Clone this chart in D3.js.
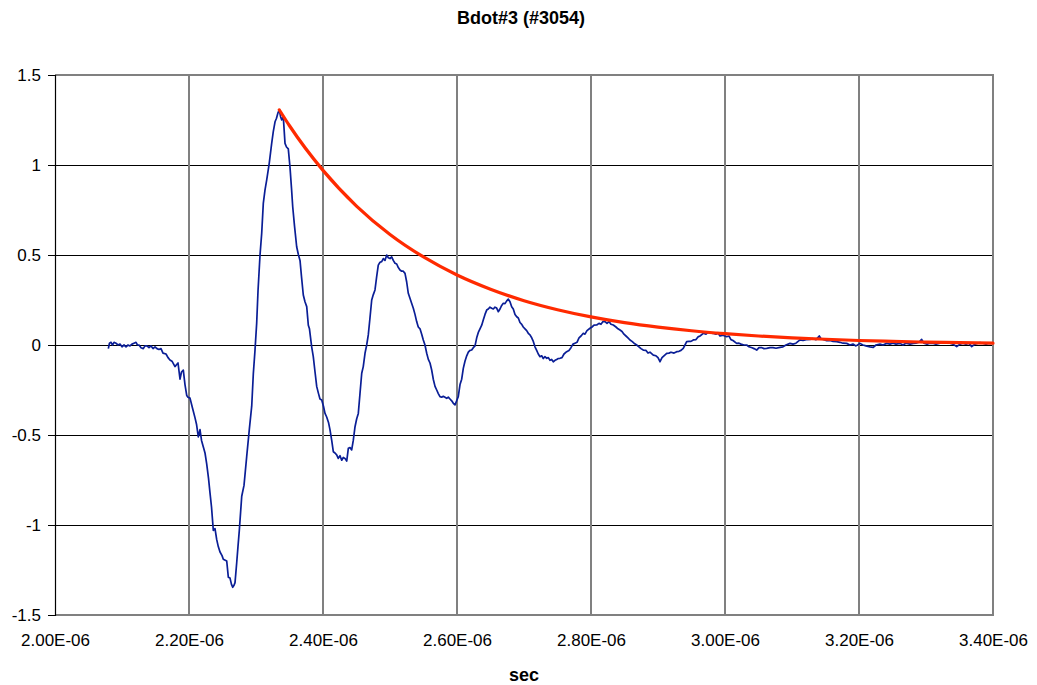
<!DOCTYPE html>
<html>
<head>
<meta charset="utf-8">
<script src="https://cdnjs.cloudflare.com/ajax/libs/d3/7.8.5/d3.min.js"></script>
<style>
  html, body { margin: 0; padding: 0; background: #fff; }
  svg { display: block; font-family: "Liberation Sans", Arial, sans-serif; }
</style>
</head>
<body>
<svg id="chart" width="1037" height="685"></svg>
<script>
// ---- Data (time in microseconds) ----
const titleText = "Bdot#3 (#3054)";
const xAxisTitle = "sec";
const xTicks = [2.0, 2.2, 2.4, 2.6, 2.8, 3.0, 3.2, 3.4];
const xTickLabels = ["2.00E-06","2.20E-06","2.40E-06","2.60E-06","2.80E-06","3.00E-06","3.20E-06","3.40E-06"];
const yTicks = [-1.5, -1, -0.5, 0, 0.5, 1, 1.5];
const yTickLabels = ["-1.5","-1","-0.5","0","0.5","1","1.5"];

const bdotTime = [
 2.0796,2.0813,2.0836,2.0858,2.0881,2.0910,2.0940,2.0970,2.1000,2.1030,
 2.1060,2.1090,2.1119,2.1149,2.1179,2.1209,2.1231,2.1254,2.1284,2.1318,
 2.1343,2.1373,2.1403,2.1433,2.1463,2.1493,2.1522,2.1552,2.1582,2.1612,
 2.1657,2.1687,2.1716,2.1746,2.1791,2.1813,2.1836,2.1866,2.1888,2.1915,
 2.1940,2.1966,2.1985,2.2015,2.2052,2.2090,2.2112,2.2139,2.2164,2.2187,
 2.2213,2.2239,2.2264,2.2291,2.2313,2.2336,2.2363,2.2388,2.2413,2.2437,
 2.2463,2.2493,2.2512,2.2563,2.2587,2.2612,2.2634,2.2652,2.2672,2.2687,
 2.2712,2.2731,2.2751,2.2787,2.2821,2.2861,2.2900,2.2936,2.2960,2.2985,
 2.3010,2.3030,2.3060,2.3085,2.3109,2.3134,2.3160,2.3198,2.3234,2.3258,
 2.3284,2.3306,2.3328,2.3348,2.3366,2.3384,2.3407,2.3433,2.3455,2.3482,
 2.3507,2.3530,2.3548,2.3575,2.3607,2.3634,2.3657,2.3679,2.3706,2.3731,
 2.3757,2.3781,2.3798,2.3831,2.3855,2.3881,2.3906,2.3933,2.3955,2.3981,
 2.4007,2.4030,2.4055,2.4082,2.4104,2.4130,2.4154,2.4179,2.4204,2.4228,
 2.4254,2.4279,2.4303,2.4328,2.4354,2.4378,2.4403,2.4428,2.4452,2.4478,
 2.4503,2.4527,2.4552,2.4578,2.4601,2.4627,2.4652,2.4676,2.4701,2.4727,
 2.4751,2.4776,2.4801,2.4825,2.4851,2.4876,2.4900,2.4925,2.4951,2.4975,
 2.5000,2.5025,2.5049,2.5075,2.5100,2.5124,2.5149,2.5175,2.5198,2.5224,
 2.5249,2.5273,2.5298,2.5324,2.5348,2.5373,2.5398,2.5422,2.5448,2.5473,
 2.5497,2.5522,2.5548,2.5572,2.5597,2.5622,2.5646,2.5672,2.5697,2.5721,
 2.5746,2.5772,2.5795,2.5821,2.5846,2.5870,2.5895,2.5921,2.5945,2.5970,
 2.5995,2.6019,2.6045,2.6070,2.6094,2.6119,2.6145,2.6169,2.6194,2.6219,
 2.6243,2.6269,2.6294,2.6318,2.6343,2.6369,2.6392,2.6418,2.6443,2.6467,
 2.6492,2.6518,2.6542,2.6567,2.6592,2.6616,2.6642,2.6667,2.6691,2.6716,
 2.6742,2.6766,2.6791,2.6816,2.6840,2.6866,2.6891,2.6915,2.6940,2.6966,
 2.6989,2.7015,2.7040,2.7064,2.7089,2.7115,2.7139,2.7164,2.7189,2.7213,
 2.7239,2.7264,2.7288,2.7313,2.7339,2.7363,2.7388,2.7413,2.7437,2.7463,
 2.7488,2.7512,2.7537,2.7567,2.7597,2.7637,2.7671,2.7701,2.7731,2.7761,
 2.7791,2.7821,2.7851,2.7885,2.7910,2.7940,2.7985,2.8015,2.8045,2.8085,
 2.8119,2.8149,2.8179,2.8209,2.8239,2.8268,2.8298,2.8333,2.8373,2.8403,
 2.8433,2.8463,2.8492,2.8522,2.8552,2.8582,2.8612,2.8642,2.8682,2.8716,
 2.8746,2.8780,2.8821,2.8851,2.8880,2.8930,2.8970,2.9000,2.9030,2.9060,
 2.9089,2.9130,2.9164,2.9194,2.9239,2.9279,2.9313,2.9343,2.9377,2.9403,
 2.9428,2.9462,2.9492,2.9527,2.9567,2.9597,2.9627,2.9676,2.9716,2.9746,
 2.9776,2.9821,2.9865,2.9895,2.9925,2.9970,3.0025,3.0059,3.0089,3.0119,
 3.0174,3.0209,3.0239,3.0283,3.0324,3.0358,3.0403,3.0433,3.0473,3.0507,
 3.0552,3.0582,3.0622,3.0671,3.0716,3.0761,3.0821,3.0865,3.0910,3.0970,
 3.1015,3.1059,3.1119,3.1164,3.1209,3.1268,3.1313,3.1358,3.1407,3.1433,
 3.1477,3.1518,3.1567,3.1612,3.1667,3.1716,3.1761,3.1816,3.1865,3.1910,
 3.1955,3.2015,3.2059,3.2104,3.2164,3.2213,3.2253,3.2313,3.2358,3.2413,
 3.2462,3.2507,3.2552,3.2612,3.2656,3.2701,3.2761,3.2810,3.2850,3.2895,
 3.2935,3.2970,3.3015,3.3059,3.3109,3.3149,3.3209,3.3253,3.3309,3.3358,
 3.3403,3.3458,3.3507,3.3552,3.3597,3.3641,3.3682,3.3731,3.3776,3.3806,
 3.3850,3.3895,3.3940,3.3980
];
const bdotValue = [
 -0.02,0.01,0.015,0.0,0.015,0.01,0.0,0.005,-0.01,0.0,
 -0.01,0.0,-0.005,0.005,0.01,0.015,0.0,0.0,-0.015,-0.02,
 -0.005,-0.005,-0.015,-0.005,-0.02,-0.01,-0.02,-0.025,-0.02,-0.045,
 -0.05,-0.07,-0.083,-0.09,-0.12,-0.11,-0.1,-0.19,-0.15,-0.14,
 -0.22,-0.28,-0.29,-0.295,-0.35,-0.405,-0.44,-0.51,-0.47,-0.53,
 -0.565,-0.6,-0.66,-0.74,-0.82,-0.9,-1.03,-1.02,-1.08,-1.12,
 -1.15,-1.17,-1.19,-1.2,-1.29,-1.295,-1.33,-1.346,-1.335,-1.32,
 -1.21,-1.12,-1.03,-0.84,-0.78,-0.62,-0.47,-0.34,-0.16,-0.03,
 0.12,0.3,0.5,0.62,0.787,0.86,0.917,1.01,1.12,1.185,
 1.24,1.26,1.29,1.306,1.27,1.25,1.27,1.12,1.1,1.09,
 0.99,0.87,0.768,0.66,0.546,0.5,0.47,0.38,0.278,0.24,
 0.213,0.11,0.09,-0.01,-0.065,-0.15,-0.23,-0.27,-0.3,-0.305,
 -0.34,-0.38,-0.40,-0.43,-0.47,-0.53,-0.593,-0.6,-0.61,-0.63,
 -0.615,-0.64,-0.625,-0.63,-0.645,-0.574,-0.57,-0.583,-0.53,-0.454,
 -0.41,-0.38,-0.27,-0.157,-0.12,-0.046,0.0,0.056,0.15,0.25,
 0.28,0.306,0.38,0.444,0.46,0.463,0.48,0.47,0.5,0.485,
 0.48,0.49,0.47,0.454,0.45,0.43,0.417,0.41,0.41,0.398,
 0.35,0.287,0.26,0.23,0.204,0.17,0.13,0.10,0.09,0.06,
 0.028,0.0,-0.046,-0.08,-0.1,-0.139,-0.19,-0.23,-0.25,-0.27,
 -0.287,-0.29,-0.285,-0.29,-0.296,-0.29,-0.30,-0.31,-0.324,-0.333,
 -0.31,-0.287,-0.22,-0.19,-0.13,-0.09,-0.06,-0.04,-0.03,-0.028,
 -0.015,-0.005,0.04,0.07,0.09,0.11,0.139,0.17,0.194,0.2,
 0.21,0.204,0.2,0.21,0.205,0.185,0.2,0.22,0.232,0.23,
 0.245,0.255,0.24,0.213,0.2,0.17,0.157,0.15,0.125,0.115,
 0.10,0.09,0.08,0.065,0.056,0.04,0.02,-0.01,-0.03,-0.05,
 -0.065,-0.06,-0.075,-0.065,-0.074,-0.07,-0.085,-0.08,-0.093,-0.085,
 -0.08,-0.075,-0.074,-0.07,-0.05,-0.037,-0.03,-0.015,0.005,0.01,
 0.015,0.04,0.05,0.065,0.06,0.08,0.093,0.1,0.11,0.111,
 0.12,0.115,0.13,0.13,0.12,0.13,0.115,0.111,0.1,0.09,
 0.083,0.075,0.06,0.05,0.04,0.028,0.02,0.01,0.0,-0.01,
 -0.02,-0.028,-0.03,-0.045,-0.04,-0.056,-0.06,-0.07,-0.093,-0.07,
 -0.06,-0.046,-0.045,-0.04,-0.045,-0.037,-0.035,-0.03,-0.019,0.0,
 0.019,0.02,0.02,0.028,0.03,0.045,0.05,0.065,0.06,0.07,
 0.069,0.065,0.06,0.068,0.05,0.055,0.046,0.05,0.03,0.025,
 0.009,0.01,0.005,0.0,0.0,-0.01,-0.015,-0.02,-0.028,-0.015,
 -0.015,-0.02,-0.019,-0.015,-0.015,-0.018,-0.013,-0.01,0.0,0.009,
 0.005,0.01,0.028,0.025,0.03,0.031,0.035,0.03,0.05,0.035,
 0.03,0.024,0.025,0.02,0.019,0.015,0.01,0.009,0.0,0.005,
 -0.005,0.009,0.0,-0.005,-0.01,-0.013,0.0,0.005,0.0,0.009,
 0.005,0.01,0.005,0.009,0.0,0.01,0.005,0.009,0.01,0.015,
 0.031,0.01,0.005,0.01,0.009,0.005,0.01,0.015,0.013,0.01,
 0.005,-0.009,0.005,0.01,0.005,0.01,-0.009,0.005,0.01,0.013,
 0.01,0.005,0.01,0.009
];

// Envelope (red)
const envTime = [2.3348,2.35,2.40,2.45,2.50,2.55,2.60,2.65,2.70,2.75,2.80,2.85,2.90,2.95,3.00,3.05,3.10,3.15,3.20,3.25,3.30,3.35,3.40];
const envValue = [1.306,1.218,0.970,0.772,0.614,0.489,0.389,0.310,0.246,0.196,0.156,0.124,0.099,0.079,0.063,0.050,0.040,0.032,0.025,0.020,0.016,0.013,0.010];

// ---- Drawing ----
const svg = d3.select("#chart");
const W = 1037, H = 685;
const m = { left: 55, right: 44, top: 75, bottom: 70 };
const x0 = m.left, x1 = W - m.right, y0 = m.top, y1 = H - m.bottom;

const x = d3.scaleLinear().domain([2.0, 3.4]).range([x0, x1]);
const y = d3.scaleLinear().domain([-1.5, 1.5]).range([y1, y0]);

const g = svg.append("g");

// horizontal gridlines (black)
g.append("g").selectAll("line").data(yTicks.filter(v => v > -1.5 && v < 1.5)).join("line")
  .attr("x1", x0).attr("x2", x1)
  .attr("y1", d => Math.round(y(d)) + 0.5).attr("y2", d => Math.round(y(d)) + 0.5)
  .attr("stroke", "#000").attr("stroke-width", 1);

// vertical gridlines (gray)
g.append("g").selectAll("line").data(xTicks.filter(v => v > 2.0 && v < 3.4)).join("line")
  .attr("x1", d => Math.round(x(d))).attr("x2", d => Math.round(x(d)))
  .attr("y1", y0).attr("y2", y1)
  .attr("stroke", "#808080").attr("stroke-width", 2);

// plot border top/right/bottom (gray)
g.append("path")
  .attr("d", `M${x0},${y0}H${x1}V${y1}H${x0}`)
  .attr("fill", "none").attr("stroke", "#808080").attr("stroke-width", 2);

// Y axis
const yAxis = d3.axisLeft(y).tickValues(yTicks)
  .tickFormat((d, i) => yTickLabels[i]).tickSize(7).tickPadding(7);
const ya = svg.append("g").attr("transform", `translate(${x0},0)`).call(yAxis);
ya.select(".domain").attr("stroke", "#000").attr("stroke-width", 1.2);
ya.selectAll(".tick line").attr("stroke", "#000");
ya.selectAll("text").attr("font-size", 17).attr("fill", "#000")
  .attr("font-family", "'Liberation Sans', Arial, sans-serif");

// X axis labels (no tick marks)
const xAxis = d3.axisBottom(x).tickValues(xTicks)
  .tickFormat((d, i) => xTickLabels[i]).tickSize(0).tickPadding(19);
const xa = svg.append("g").attr("transform", `translate(0,${y1})`).call(xAxis);
xa.select(".domain").remove();
xa.selectAll("text").attr("font-size", 17).attr("fill", "#000")
  .attr("font-family", "'Liberation Sans', Arial, sans-serif");

// data line
const bdot = bdotTime.map((t, i) => [t, bdotValue[i]]);
svg.append("path").datum(bdot)
  .attr("fill", "none").attr("stroke", "#0a1e96").attr("stroke-width", 1.7)
  .attr("stroke-linejoin", "round")
  .attr("d", d3.line().x(d => x(d[0])).y(d => y(d[1])));

// envelope
const env = envTime.map((t, i) => [t, envValue[i]]);
svg.append("path").datum(env)
  .attr("fill", "none").attr("stroke", "#ff2a00").attr("stroke-width", 3.2)
  .attr("stroke-linecap", "round")
  .attr("d", d3.line().curve(d3.curveMonotoneX).x(d => x(d[0])).y(d => y(d[1])));

// titles
svg.append("text").attr("x", 521).attr("y", 24).attr("text-anchor", "middle")
  .attr("font-size", 18).attr("font-weight", "bold").text(titleText);
svg.append("text").attr("x", 524).attr("y", 681).attr("text-anchor", "middle")
  .attr("font-size", 18).attr("font-weight", "bold").text(xAxisTitle);
</script>
</body>
</html>
